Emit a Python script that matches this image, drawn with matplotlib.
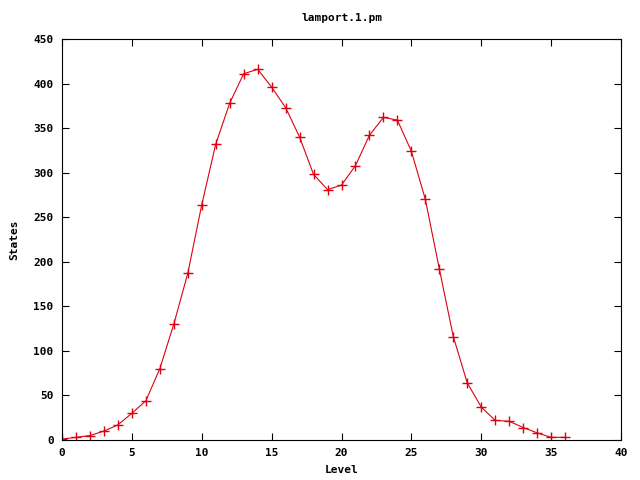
import matplotlib
matplotlib.use("Agg")
import matplotlib.pyplot as plt

# Data
levels = list(range(37))
states = [1, 3, 5, 10, 17, 30, 44, 80, 130, 187, 264, 332, 378, 411, 416,
          396, 373, 340, 298, 281, 286, 308, 342, 362, 359, 324, 270, 192,
          116, 64, 37, 22, 21, 14, 8, 3, 3]

plt.rcParams['font.family'] = ['DejaVu Sans Mono']
plt.rcParams['font.size'] = 8
plt.rcParams['font.weight'] = 'bold'

fig = plt.figure(figsize=(6.4, 4.8), dpi=100)
ax = fig.add_axes([62/640, 1-440/480, (621-62)/640, (440-39)/480])

ax.plot(levels, states, '-', color='#dd0011', lw=0.8,
        marker='+', markersize=7, markeredgewidth=1.0)

ax.set_xlim(0, 40)
ax.set_ylim(0, 450)
ax.set_xticks(range(0, 41, 5))
ax.set_yticks(range(0, 451, 50))
ax.tick_params(direction='in', length=5, width=0.8, top=True, right=True,
               labelsize=8, pad=6)
for lab in ax.get_xticklabels() + ax.get_yticklabels():
    lab.set_fontweight('bold')
for s in ax.spines.values():
    s.set_linewidth(0.8)

ax.set_title("lamport.1.pm", fontsize=8, fontweight='bold', pad=13)
ax.set_xlabel("Level", fontsize=8, fontweight='bold', labelpad=5)
ax.set_ylabel("States", fontsize=8, fontweight='bold', labelpad=10)

fig.savefig("out.png", dpi=100)
